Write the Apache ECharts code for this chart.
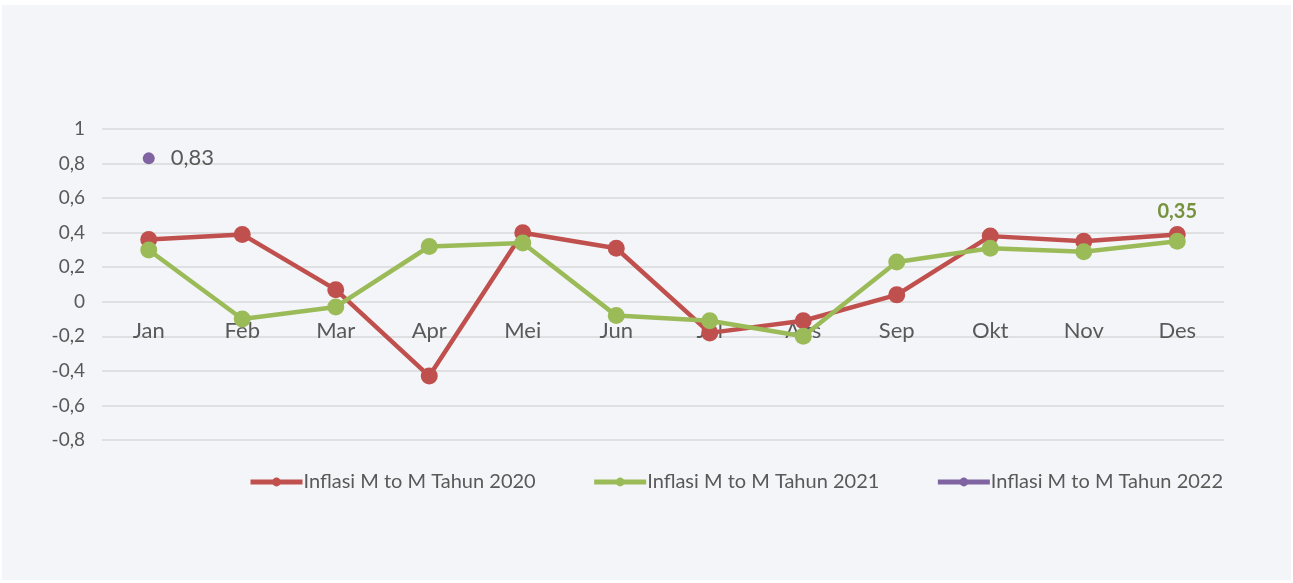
<!DOCTYPE html>
<html>
<head>
<meta charset="utf-8">
<script src="https://cdn.jsdelivr.net/npm/echarts@6/dist/echarts.min.js"></script>
<style>
  body { margin: 0; background: #ffffff; }
  #main { position: absolute; left: 2px; top: 5px; width: 1289px; height: 575px; background: #f4f5f9; }
</style>
</head>
<body>
<div id="main"></div>
<script>
// bulan
var months = ['Jan', 'Feb', 'Mar', 'Apr', 'Mei', 'Jun', 'Jul', 'Ags', 'Sep', 'Okt', 'Nov', 'Des'];
// inflasi month to month
var infl2020 = [0.36, 0.39, 0.07, -0.43, 0.40, 0.31, -0.18, -0.11, 0.04, 0.38, 0.35, 0.39];
var infl2021 = [0.30, -0.10, -0.03, 0.32, 0.34, -0.08, -0.11, -0.20, 0.23, 0.31, 0.29, 0.35];
var infl2022 = [0.83, null, null, null, null, null, null, null, null, null, null, null];
var yTicks = [1, 0.8, 0.6, 0.4, 0.2, 0, -0.2, -0.4, -0.6, -0.8];

function koma(v) {
  return String(v).replace('.', ',');
}

var chart = echarts.init(document.getElementById('main'));

var option = {
  animation: false,
  textStyle: { fontFamily: 'Lato' },
  color: ['#c0504d', '#9bbb59', '#8064a2'],
  grid: { left: 100, right: 67, top: 124, bottom: 140 },
  legend: {
    top: 462,
    left: 241,
    itemWidth: 52,
    itemHeight: 11,
    itemGap: 56,
    lineStyle: { width: 5 },
    textStyle: { fontSize: 20, color: '#595959', padding: [0, 0, 0, -4] },
    data: ['Inflasi M to M Tahun 2020', 'Inflasi M to M Tahun 2021', 'Inflasi M to M Tahun 2022']
  },
  xAxis: {
    type: 'category',
    data: months,
    offset: -138,
    axisLine: { show: false },
    axisTick: { show: false },
    axisLabel: { fontSize: 22, color: '#595959', margin: 18 }
  },
  yAxis: {
    type: 'value',
    min: -0.8,
    max: 1,
    interval: 0.2,
    axisLine: { show: false },
    axisTick: { show: false },
    splitLine: { lineStyle: { color: '#d9d9d9', width: 1.5 } },
    axisLabel: {
      fontSize: 19,
      color: '#595959',
      margin: 17,
      formatter: function (v) { return koma(Math.round(v * 10) / 10); }
    }
  },
  series: [
    {
      name: 'Inflasi M to M Tahun 2020',
      type: 'line',
      data: infl2020,
      symbol: 'circle',
      symbolSize: 17,
      lineStyle: { width: 4.5 },
      z: 2
    },
    {
      name: 'Inflasi M to M Tahun 2021',
      type: 'line',
      data: infl2021,
      symbol: 'circle',
      symbolSize: 17,
      lineStyle: { width: 4.5 },
      z: 3,
      label: {
        show: true,
        position: 'top',
        distance: 11,
        fontSize: 20,
        fontWeight: 'bold',
        color: '#76923c',
        formatter: function (p) { return p.dataIndex === 11 ? koma(p.value) : ''; }
      }
    },
    {
      name: 'Inflasi M to M Tahun 2022',
      type: 'line',
      data: infl2022,
      symbol: 'circle',
      symbolSize: 12,
      lineStyle: { width: 4.5 },
      z: 4,
      label: {
        show: true,
        position: 'right',
        distance: 16,
        fontSize: 22,
        color: '#595959',
        formatter: function (p) { return koma(p.value); }
      }
    }
  ]
};

chart.setOption(option);
</script>
</body>
</html>
